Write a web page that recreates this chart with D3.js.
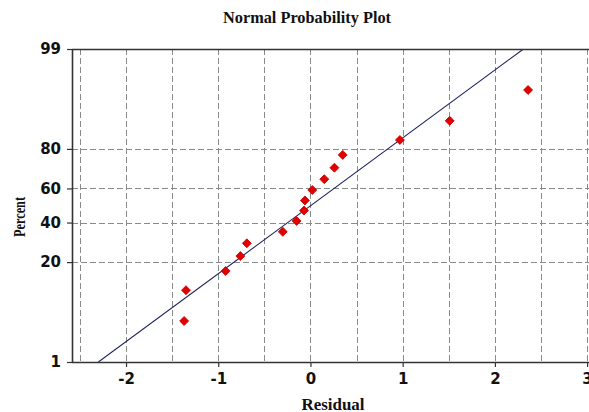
<!DOCTYPE html>
<html>
<head>
<meta charset="utf-8">
<script src="https://cdn.jsdelivr.net/npm/d3@7"></script>
<style>
  html, body { margin: 0; padding: 0; background: #fff; }
  svg { display: block; }
</style>
</head>
<body>
<svg id="chart" width="589" height="412"></svg>
<script>
// ---- data ----
const residuals = [-1.37, -1.35, -0.92, -0.76, -0.69, -0.30, -0.15, -0.07, -0.06, 0.02, 0.15, 0.26, 0.35, 0.97, 1.51, 2.36];
const percents  = [4.3, 10.4, 16.5, 22.6, 28.7, 34.8, 40.9, 47.0, 53.0, 59.1, 65.2, 71.3, 77.4, 83.5, 89.6, 95.7];
const fitLineX = [-2.30, 2.31];
const fitLineP = [1, 99];
const xTicks = [-2, -1, 0, 1, 2, 3];
const xGrid = [-2.5, -2, -1.5, -1, -0.5, 0, 0.5, 1, 1.5, 2, 2.5, 3];
const yTicks = [1, 20, 40, 60, 80, 99];
const yGrid = [20, 40, 60, 80];
const titleText = "Normal Probability Plot";
const xTitle = "Residual";
const yTitle = "Percent";

// inverse normal CDF (Acklam)
function probit(p) {
  const a = [-3.969683028665376e+01, 2.209460984245205e+02, -2.759285104469687e+02, 1.383577518672690e+02, -3.066479806614716e+01, 2.506628277459239e+00];
  const b = [-5.447609879822406e+01, 1.615858368580409e+02, -1.556989798598866e+02, 6.680131188771972e+01, -1.328068155288572e+01];
  const c = [-7.784894002430293e-03, -3.223964580411365e-01, -2.400758277161838e+00, -2.549732539343734e+00, 4.374664141464968e+00, 2.938163982698783e+00];
  const d = [7.784695709041462e-03, 3.224671290700398e-01, 2.445134137142996e+00, 3.754408661907416e+00];
  const pl = 0.02425, ph = 1 - pl;
  let q, r;
  if (p < pl) {
    q = Math.sqrt(-2 * Math.log(p));
    return (((((c[0]*q+c[1])*q+c[2])*q+c[3])*q+c[4])*q+c[5]) / ((((d[0]*q+d[1])*q+d[2])*q+d[3])*q+1);
  } else if (p <= ph) {
    q = p - 0.5; r = q*q;
    return (((((a[0]*r+a[1])*r+a[2])*r+a[3])*r+a[4])*r+a[5])*q / (((((b[0]*r+b[1])*r+b[2])*r+b[3])*r+b[4])*r+1);
  } else {
    q = Math.sqrt(-2 * Math.log(1 - p));
    return -(((((c[0]*q+c[1])*q+c[2])*q+c[3])*q+c[4])*q+c[5]) / ((((d[0]*q+d[1])*q+d[2])*q+d[3])*q+1);
  }
}

// ---- layout ----
const L = 72, R = 600, T = 49, B = 362;
const svg = d3.select("#chart");

const x = d3.scaleLinear().domain([-2.586, 3.14]).range([L, R]);
const yz = d3.scaleLinear().domain([probit(0.01), probit(0.99)]).range([B, T]);
const yp = p => yz(probit(p / 100));

svg.append("defs").append("clipPath").attr("id", "clip")
  .append("rect").attr("x", L).attr("y", T).attr("width", R - L).attr("height", B - T);

// grid
const grid = svg.append("g").attr("stroke", "#8a8a8a").attr("stroke-width", 1).attr("stroke-dasharray", "6,3");
grid.selectAll("line.v").data(xGrid).join("line")
  .attr("class", "v")
  .attr("x1", d => Math.round(x(d)) + 0.5).attr("x2", d => Math.round(x(d)) + 0.5)
  .attr("y1", T).attr("y2", B);
grid.selectAll("line.h").data(yGrid).join("line")
  .attr("class", "h")
  .attr("x1", L).attr("x2", R)
  .attr("y1", d => Math.round(yp(d)) + 0.5).attr("y2", d => Math.round(yp(d)) + 0.5);

// fit line
const lineData = fitLineX.map((v, i) => ({ x: v, p: fitLineP[i] }));
svg.append("path")
  .datum(lineData)
  .attr("clip-path", "url(#clip)")
  .attr("fill", "none")
  .attr("stroke", "#1c1f5c")
  .attr("stroke-width", 1.1)
  .attr("d", d3.line().x(d => x(d.x)).y(d => yp(d.p)));

// axes
const tickFont = "DejaVu Sans, Verdana, sans-serif";
const xAxis = svg.append("g").attr("transform", `translate(0,${B})`)
  .call(d3.axisBottom(x).tickValues(xTicks).tickSize(5).tickPadding(6).tickFormat(d3.format("d")));
const yAxis = svg.append("g").attr("transform", `translate(${L},0)`)
  .call(d3.axisLeft(yz).tickValues(yTicks.map(p => probit(p / 100))).tickSize(5).tickPadding(6)
    .tickFormat((d, i) => yTicks[i]));
[xAxis, yAxis].forEach(g => {
  g.select(".domain").remove();
  g.selectAll(".tick line").attr("stroke", "#333").attr("stroke-width", 1.2);
  g.selectAll(".tick text").attr("fill", "#111").style("font-family", tickFont)
    .style("font-size", "15px").style("font-weight", "bold");
});
xAxis.selectAll(".tick text").text(d => d < 0 ? "-" + Math.abs(d) : d);

// border lines
svg.append("line").attr("x1", L).attr("x2", R).attr("y1", B + 0.5).attr("y2", B + 0.5).attr("stroke", "#333").attr("stroke-width", 1.6);
svg.append("line").attr("x1", L).attr("x2", R).attr("y1", T + 0.5).attr("y2", T + 0.5).attr("stroke", "#333").attr("stroke-width", 1.6);
svg.append("line").attr("x1", L + 0.5).attr("x2", L + 0.5).attr("y1", T).attr("y2", B).attr("stroke", "#333").attr("stroke-width", 1.6);

// points
const pts = residuals.map((v, i) => ({ x: v, p: percents[i] }));
svg.append("g").selectAll("path").data(pts).join("path")
  .attr("d", d3.symbol().type(d3.symbolSquare).size(40))
  .attr("transform", d => `translate(${x(d.x)},${yp(d.p)}) rotate(45)`)
  .attr("fill", "#e00000")
  .attr("stroke", "#c80000")
  .attr("stroke-width", 0.8);

// titles
const serif = "Liberation Serif, Times New Roman, serif";
svg.append("text").attr("x", 307).attr("y", 23).attr("text-anchor", "middle")
  .attr("textLength", 168).attr("lengthAdjust", "spacingAndGlyphs")
  .style("font-family", serif).style("font-weight", "bold").style("font-size", "17px")
  .attr("fill", "#111").text(titleText);
svg.append("text").attr("x", 333).attr("y", 410).attr("text-anchor", "middle")
  .attr("textLength", 63).attr("lengthAdjust", "spacingAndGlyphs")
  .style("font-family", serif).style("font-weight", "bold").style("font-size", "16px")
  .attr("fill", "#111").text(xTitle);
svg.append("text").attr("transform", "translate(25,217) rotate(-90)").attr("text-anchor", "middle")
  .attr("textLength", 40).attr("lengthAdjust", "spacingAndGlyphs")
  .style("font-family", serif).style("font-weight", "bold").style("font-size", "16px")
  .attr("fill", "#111").text(yTitle);
</script>
</body>
</html>
